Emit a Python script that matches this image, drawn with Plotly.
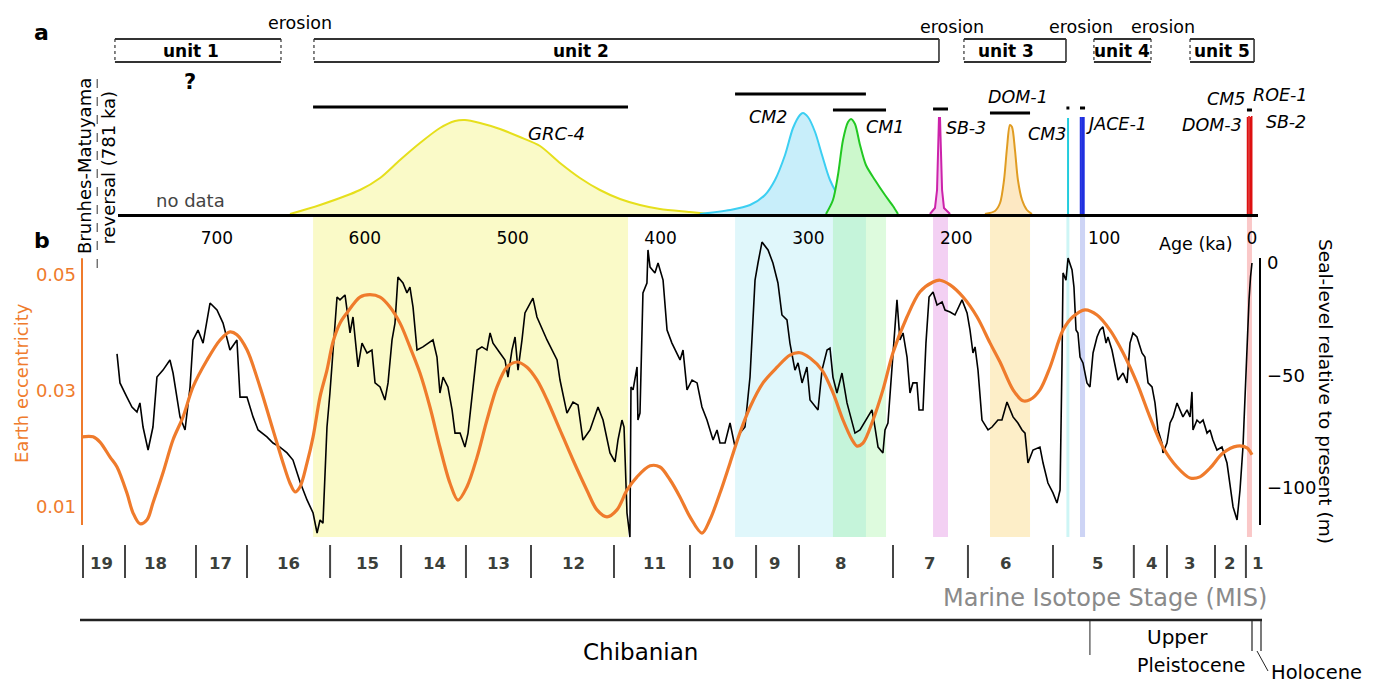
import plotly.graph_objects as go

W, H = 1377, 686

# ---------------- data ----------------
age_ticks = [700, 600, 500, 400, 300, 200, 100, 0]

# sea level (m, relative to present) vs age (ka)
sea_age = [
    767.6, 765.6, 760.9, 757.5, 754.1, 752.1, 750.0, 746.6, 743.3, 740.6,
    736.5, 731.8, 729.7, 725.0, 721.6, 718.2, 716.2, 712.8, 709.4, 704.7,
    700.0, 695.9, 691.2, 686.5, 684.4, 679.7, 675.6, 672.2, 666.2, 662.1,
    657.4, 652.6, 648.6, 643.8, 639.1, 635.0, 632.3, 630.3, 628.3, 625.6,
    623.6, 618.8, 616.8, 613.4, 610.0, 608.0, 604.6, 601.9, 598.5, 595.2,
    593.1, 589.7, 586.4, 584.3, 581.6, 579.6, 577.6, 574.2, 571.5, 569.5,
    567.4, 564.7, 560.7, 553.9, 551.2, 549.2, 547.1, 543.8, 541.0, 539.0,
    535.6, 532.3, 530.2, 527.5, 525.5, 524.1, 520.8, 517.4, 515.3, 513.3,
    508.6, 505.2, 503.2, 500.5, 498.4, 496.4, 493.7, 491.7, 486.3, 483.6,
    476.8, 470.0, 468.0, 463.3, 459.2, 455.8, 452.5, 447.7, 442.3, 438.9,
    434.2, 430.8, 428.8, 426.1, 424.7, 422.7, 420.7, 420.0, 418.6, 415.9,
    415.3, 413.9, 411.9, 409.2, 408.5, 407.1, 403.8, 401.7, 398.3, 395.6,
    392.3, 390.2, 386.8, 384.8, 382.1, 378.7, 375.3, 372.0, 368.6, 364.5,
    361.8, 359.8, 356.4, 353.0, 349.6, 346.3, 342.9, 339.5, 336.1, 334.1,
    331.4, 327.3, 324.0, 320.6, 317.9, 314.5, 312.5, 309.1, 307.0, 304.3,
    301.0, 298.9, 293.5, 290.8, 287.4, 285.4, 283.4, 280.7, 277.3, 273.9,
    270.5, 268.5, 265.1, 262.4, 259.7, 257.0, 255.0, 252.9, 249.6, 248.2,
    246.2, 242.8, 240.1, 238.1, 236.0, 233.3, 231.3, 229.3, 226.6, 225.2,
    222.5, 220.5, 218.4, 215.7, 213.0, 209.6, 207.6, 204.2, 200.9, 196.1,
    192.7, 190.7, 188.7, 187.3, 185.3, 182.6, 178.5, 175.8, 171.8, 169.1,
    165.7, 161.6, 158.3, 155.5, 153.5, 151.5, 148.1, 143.4, 141.3, 138.0,
    134.6, 131.9, 129.8, 128.5, 127.8, 125.8, 124.4, 121.7, 120.4, 119.0,
    117.7, 116.3, 114.3, 111.6, 109.6, 107.5, 104.8, 102.8, 100.8, 98.7,
    97.4, 94.7, 92.6, 90.6, 87.2, 84.5, 82.5, 80.5, 77.8, 74.4,
    72.4, 70.3, 67.6, 65.6, 63.6, 60.9, 60.2, 57.5, 55.4, 53.4,
    50.7, 48.7, 46.7, 43.9, 41.9, 40.6, 39.9, 37.2, 35.2, 33.1,
    30.4, 28.4, 26.4, 23.7, 20.3, 16.9, 14.9, 12.8, 10.1, 8.1,
    6.1, 3.4, 2.0, 1.0, 0.0,
]
sea_level = [
    -40.4, -53.3, -59.6, -64.0, -66.2, -62.2, -72.9, -83.1, -72.9, -50.7,
    -47.6, -43.1, -48.9, -68.4, -74.2, -55.1, -34.2, -29.8, -35.6, -17.8,
    -20.9, -26.7, -38.7, -34.2, -59.6, -59.6, -68.4, -74.2, -77.3, -80.0,
    -81.8, -84.4, -87.6, -97.3, -105.3, -111.1, -120.0, -114.2, -115.6, -72.9,
    -57.8, -15.1, -16.4, -14.2, -31.1, -24.0, -46.2, -35.6, -40.0, -38.7,
    -53.3, -55.1, -60.9, -53.3, -34.2, -26.7, -6.2, -8.9, -13.3, -10.7,
    -19.6, -38.7, -37.3, -34.2, -41.8, -57.8, -50.7, -55.1, -65.3, -75.6,
    -75.6, -81.8, -75.6, -59.6, -47.6, -38.7, -37.3, -38.7, -31.1, -35.6,
    -40.0, -43.1, -50.7, -38.7, -32.9, -47.6, -34.2, -22.2, -15.6, -24.0,
    -34.2, -43.1, -52.0, -66.7, -61.8, -63.1, -78.7, -74.2, -64.0, -69.8,
    -84.4, -88.4, -78.7, -69.8, -72.9, -111.1, -121.8, -55.1, -56.4, -46.2,
    -69.8, -66.7, -13.3, -8.9, 5.8, -1.8, -4.4, 0.0, -7.6, -29.8,
    -35.6, -38.7, -43.1, -38.7, -56.4, -52.0, -53.3, -64.0, -69.8, -78.7,
    -74.2, -80.0, -80.0, -71.1, -81.8, -75.6, -72.9, -50.7, -7.6, 0.0,
    9.3, 5.8, 0.0, -8.9, -23.1, -25.3, -35.6, -47.6, -44.4, -53.3,
    -46.2, -60.9, -65.3, -47.6, -38.7, -37.8, -50.7, -57.8, -48.9, -62.2,
    -71.1, -75.6, -74.2, -71.1, -68.4, -65.3, -72.9, -81.8, -84.4, -74.2,
    -71.1, -41.8, -16.4, -34.2, -31.1, -41.8, -57.8, -53.3, -53.3, -65.3,
    -65.3, -35.6, -15.1, -12.9, -18.7, -17.3, -20.9, -21.8, -23.1, -16.4,
    -22.2, -29.8, -40.0, -37.3, -47.6, -69.8, -74.2, -72.9, -69.8, -69.8,
    -61.8, -68.4, -71.1, -74.2, -75.6, -88.9, -83.1, -81.8, -88.9, -97.8,
    -102.2, -106.7, -100.9, -44.4, -4.4, -7.6, 2.2, -3.1, -10.7, -29.8,
    -31.1, -41.8, -44.4, -53.3, -55.1, -40.0, -32.9, -29.8, -28.4, -35.6,
    -32.9, -38.7, -46.2, -52.0, -48.9, -53.3, -35.6, -31.1, -32.9, -40.0,
    -41.8, -53.3, -55.1, -62.2, -74.2, -80.0, -84.4, -80.0, -71.1, -68.4,
    -62.2, -65.3, -68.4, -65.3, -68.4, -57.3, -74.2, -69.8, -71.1, -69.8,
    -75.6, -74.2, -78.7, -83.1, -81.8, -88.9, -97.8, -108.4, -114.2, -100.9,
    -81.8, -34.2, -16.4, -6.2, 0.0,
]

# Earth eccentricity vs age (ka)
ecc_age = [
    791.3, 783.8, 779.1, 772.3, 767.6, 760.9, 756.8, 752.1, 747.3, 743.3,
    736.5, 729.7, 723.0, 716.2, 706.8, 697.9, 691.2, 686.5, 679.7, 670.9,
    662.1, 655.3, 650.6, 647.2, 643.8, 639.1, 635.0, 630.3, 625.6, 621.5,
    616.8, 612.0, 603.3, 596.5, 589.7, 583.0, 576.2, 569.5, 562.7, 555.9,
    549.2, 542.4, 537.0, 530.9, 524.1, 517.4, 510.6, 503.9, 497.1, 490.3,
    483.6, 476.8, 468.0, 459.2, 449.8, 443.0, 436.2, 429.5, 422.7, 415.9,
    407.1, 400.4, 393.6, 386.8, 380.1, 372.0, 366.6, 359.8, 353.0, 346.3,
    339.5, 330.7, 321.2, 312.5, 305.7, 298.9, 290.8, 283.4, 276.6, 270.5,
    267.1, 263.1, 256.3, 249.6, 242.8, 233.3, 224.5, 215.7, 211.0, 204.2,
    195.4, 186.0, 177.2, 170.4, 161.6, 154.9, 150.1, 143.4, 136.6, 127.8,
    121.1, 112.9, 104.8, 96.0, 87.2, 77.8, 69.0, 60.2, 50.7, 41.9,
    35.2, 28.4, 19.6, 10.1, 3.4, 0.0,
]
eccentricity = [
    0.0221, 0.0221, 0.0212, 0.0186, 0.0169, 0.0124, 0.0090, 0.0071, 0.0078, 0.0107,
    0.0159, 0.0216, 0.0255, 0.0307, 0.0353, 0.0388, 0.0402, 0.0397, 0.0371, 0.0307,
    0.0233, 0.0176, 0.0141, 0.0126, 0.0135, 0.0176, 0.0221, 0.0290, 0.0336, 0.0385,
    0.0417, 0.0435, 0.0462, 0.0466, 0.0462, 0.0445, 0.0417, 0.0376, 0.0331, 0.0272,
    0.0203, 0.0141, 0.0112, 0.0135, 0.0186, 0.0250, 0.0307, 0.0341, 0.0350, 0.0341,
    0.0319, 0.0285, 0.0233, 0.0181, 0.0129, 0.0095, 0.0083, 0.0095, 0.0129, 0.0152,
    0.0171, 0.0169, 0.0147, 0.0117, 0.0083, 0.0055, 0.0078, 0.0124, 0.0176, 0.0228,
    0.0272, 0.0314, 0.0341, 0.0362, 0.0366, 0.0357, 0.0336, 0.0297, 0.0250, 0.0216,
    0.0205, 0.0210, 0.0250, 0.0302, 0.0366, 0.0428, 0.0471, 0.0488, 0.0491, 0.0483,
    0.0462, 0.0428, 0.0383, 0.0350, 0.0302, 0.0283, 0.0285, 0.0302, 0.0341, 0.0405,
    0.0428, 0.0440, 0.0431, 0.0405, 0.0366, 0.0314, 0.0255, 0.0203, 0.0169, 0.0150,
    0.0152, 0.0167, 0.0193, 0.0205, 0.0202, 0.0190,
]

# age probability densities (relative height)
grc4_age = [650.6, 630.3, 603.3, 589.7, 576.2, 562.7, 549.2, 539.0, 532.3, 522.1,
            508.6, 495.1, 481.5, 468.0, 454.5, 441.0, 427.4, 413.9, 400.4, 380.1, 366.6]
grc4_h = [0, 0.09, 0.24, 0.36, 0.54, 0.71, 0.86, 0.93, 0.94, 0.91,
          0.85, 0.77, 0.68, 0.51, 0.36, 0.24, 0.15, 0.09, 0.05, 0.02, 0]
cm2_age = [373.4, 353.0, 339.5, 329.4, 322.6, 315.8, 310.4, 305.7, 303.7, 300.3,
           295.5, 290.8, 285.4, 278.6, 271.9, 261.7, 251.6]
cm2_h = [0, 0.04, 0.09, 0.19, 0.34, 0.59, 0.86, 0.99, 1.01, 0.97,
         0.82, 0.59, 0.34, 0.16, 0.07, 0.02, 0]
cm1_age = [288.1, 283.4, 280.0, 276.6, 273.2, 271.2, 268.5, 265.1, 261.1, 255.0, 248.2, 242.8, 239.4]
cm1_h = [0, 0.14, 0.39, 0.74, 0.92, 0.95, 0.90, 0.69, 0.49, 0.34, 0.19, 0.08, 0]
sb3_age = [217.8, 214.4, 213.0, 212.3, 211.7, 211.0, 210.3, 209.6, 208.3, 204.2]
sb3_h = [0, 0.06, 0.24, 0.64, 0.96, 0.96, 0.64, 0.24, 0.06, 0]
dom1_age = [180.6, 173.8, 170.4, 167.7, 165.7, 163.7, 162.3, 160.3, 158.3, 155.5, 152.2, 148.8]
dom1_h = [0, 0.03, 0.11, 0.34, 0.66, 0.89, 0.87, 0.64, 0.34, 0.14, 0.04, 0]
cm3_ages = [124.4]
cm3_h = [0.96]
jace1_ages = [115.8, 114.8, 113.8]
jace1_h = [0.97, 0.97, 0.97]
holocene_ages = [3.0, 2.0, 1.0, 0.2]
holocene_h = [0.97, 0.98, 0.97, 0.98]

# dated ranges (ka): GRC-4, CM2, CM1, SB-3, DOM-1, CM3, JACE-1, CM5/ROE-1/DOM-3/SB-2
range_start = [635.0, 349.6, 283.4, 215.7, 177.2, 125.5, 116.3, 3.4]
range_end = [422.0, 261.1, 247.5, 205.6, 150.1, 123.5, 112.9, 0.0]
range_level = [1.07, 1.20, 1.04, 1.05, 1.01, 1.06, 1.06, 1.04]

# stratigraphic units (ka)
unit_names = ["unit 1", "unit 2", "unit 3", "unit 4", "unit 5"]
unit_start = [769.0, 634.4, 194.8, 106.9, 41.9]
unit_end = [656.7, 211.7, 125.8, 68.3, -1.4]
unit_label_age = [717.6, 453.8, 166.4, 87.9, 20.3]
erosion_age = [643.8, 202.9, 115.6, 60.2]

# Marine Isotope Stages
mis_bounds = [790.6, 762.2, 714.2, 679.7, 623.5, 575.5, 531.6, 487.6, 431.5, 380.1,
              335.4, 306.4, 242.8, 192.1, 134.6, 79.9, 57.5, 25.0, 4.1]
mis_labels = ["19", "18", "17", "16", "15", "14", "13", "12", "11", "10",
              "9", "8", "7", "6", "5", "4", "3", "2", "1"]
mis_label_age = [778.4, 741.9, 697.9, 651.3, 597.9, 553.2, 509.3, 459.2, 404.4, 358.4,
                 322.6, 278.6, 218.4, 166.4, 104.8, 68.3, 42.6, 14.9, -3.4]

brunhes_matuyama = 781.0
chibanian_upper_boundary = 109.6

# ---------------- helpers ----------------
def ppx(p):
    return p / W


def ppy(p):
    return 1 - p / H


FONT = "DejaVu Sans"
ORANGE = "#ef7b2c"

fig = go.Figure()

# ---------------- shaded age bands ----------------
band_colors = ["rgb(250,250,200)", "rgb(224,247,251)", "rgba(90,235,90,0.2)",
               "rgb(243,208,243)", "rgb(253,238,200)", "rgb(205,245,245)",
               "rgb(205,212,245)", "rgb(250,200,200)"]
for a0, a1, c in zip(range_start, range_end, band_colors):
    fig.add_shape(type="rect", xref="x", yref="paper", x0=a0, x1=a1,
                  y0=ppy(537), y1=ppy(214), fillcolor=c, line_width=0, layer="below")

# ---------------- panel a: densities ----------------
def density(x, y, line_c, fill_c, shape="spline"):
    fig.add_trace(go.Scatter(x=x, y=y, xaxis="x2", yaxis="y4", mode="lines",
                             fill="tozeroy", fillcolor=fill_c,
                             line=dict(color=line_c, width=2, shape=shape, smoothing=0.8),
                             hoverinfo="skip"))


density(grc4_age, grc4_h, "#e6df1c", "rgb(250,250,200)")
density(cm2_age, cm2_h, "#3ccff2", "rgb(200,238,250)")
density(cm1_age, cm1_h, "#22c822", "rgb(204,248,204)")
density(sb3_age, sb3_h, "#cc22aa", "rgb(246,205,240)", shape="linear")
density(dom1_age, dom1_h, "#e09c22", "rgb(253,232,195)")


def spikes(ages, hs, color, width):
    xs, ys = [], []
    for a, h in zip(ages, hs):
        xs += [a, a, None]
        ys += [0, h, None]
    fig.add_trace(go.Scatter(x=xs, y=ys, xaxis="x2", yaxis="y4", mode="lines",
                             line=dict(color=color, width=width), hoverinfo="skip"))


spikes(cm3_ages, cm3_h, "#22ccdd", 2)
spikes(jace1_ages, jace1_h, "#2030e0", 2)
spikes(holocene_ages, holocene_h, "#dd1111", 1.6)

rx, ry = [], []
for a0, a1, lv in zip(range_start, range_end, range_level):
    rx += [a0, a1, None]
    ry += [lv, lv, None]
fig.add_trace(go.Scatter(x=rx, y=ry, xaxis="x2", yaxis="y4", mode="lines",
                         line=dict(color="black", width=3), hoverinfo="skip"))

# ---------------- panel b ----------------
fig.add_trace(go.Scatter(x=sea_age, y=sea_level, xaxis="x", yaxis="y", mode="lines",
                         line=dict(color="black", width=1.6), hoverinfo="skip"))
fig.add_trace(go.Scatter(x=ecc_age, y=eccentricity, xaxis="x", yaxis="y2", mode="lines",
                         line=dict(color=ORANGE, width=3.2, shape="spline", smoothing=0.9),
                         hoverinfo="skip"))

# axis lines
fig.add_shape(type="line", xref="paper", yref="y2", x0=ppx(82), x1=ppx(82),
              y0=0.0069, y1=0.0529, line=dict(color=ORANGE, width=2))
fig.add_shape(type="line", xref="paper", yref="y", x0=ppx(1260), x1=ppx(1260),
              y0=-116.4, y1=2.2, line=dict(color="black", width=2))


def text(t, x, y, size, color="black", angle=0, xref="paper", xanchor="center"):
    fig.add_annotation(x=x, y=y, xref=xref, yref="paper", text=t, showarrow=False, textangle=angle,
                       xanchor=xanchor, yanchor="middle", font=dict(family=FONT, size=size, color=color))


# ---------------- units ----------------
for i, (a0, a1) in enumerate(zip(unit_start, unit_end)):
    for yy in (39, 62):
        fig.add_shape(type="line", xref="x", yref="paper", x0=a0, x1=a1,
                      y0=ppy(yy), y1=ppy(yy), line=dict(color="#333", width=1.8))
    right_dash = "dot" if i in (0, 3) else "solid"
    fig.add_shape(type="line", xref="x", yref="paper", x0=a0, x1=a0, y0=ppy(39), y1=ppy(62),
                  line=dict(color="#333", width=1.2, dash="dot"))
    fig.add_shape(type="line", xref="x", yref="paper", x0=a1, x1=a1, y0=ppy(39), y1=ppy(62),
                  line=dict(color="#333", width=1.6 if right_dash == "solid" else 1.2, dash=right_dash))
    text("<b>" + unit_names[i] + "</b>", unit_label_age[i], ppy(51), 17, xref="x")

for k, a in enumerate(erosion_age):
    text("erosion", a, ppy(23 if k == 0 else 27), 17.5, xref="x")

# ---------------- MIS ----------------
for b in mis_bounds:
    fig.add_shape(type="line", xref="x", yref="paper", x0=b, x1=b, y0=ppy(578), y1=ppy(545),
                  line=dict(color="#454545", width=2))
for lab, a in zip(mis_labels, mis_label_age):
    text("<b>" + lab + "</b>", a, ppy(563), 16.5, color="#3b3f3b", xref="x")

# Brunhes-Matuyama
fig.add_shape(type="line", xref="x", yref="paper", x0=brunhes_matuyama, x1=brunhes_matuyama,
              y0=ppy(268), y1=ppy(76), line=dict(color="#333", width=1, dash="dash"))

# geological time scale
fig.add_shape(type="line", xref="paper", yref="paper", x0=ppx(80), x1=ppx(1262), y0=ppy(620), y1=ppy(620),
              line=dict(color="#222", width=2.5))
fig.add_shape(type="line", xref="x", yref="paper", x0=chibanian_upper_boundary, x1=chibanian_upper_boundary,
              y0=ppy(620), y1=ppy(655), line=dict(color="#222", width=1))
for xx in (1252, 1261):
    fig.add_shape(type="line", xref="paper", yref="paper", x0=ppx(xx), x1=ppx(xx), y0=ppy(620), y1=ppy(651),
                  line=dict(color="#222", width=1.2))
fig.add_shape(type="line", xref="paper", yref="paper", x0=ppx(1257), x1=ppx(1268), y0=ppy(651), y1=ppy(671),
              line=dict(color="#222", width=1))

text("<b>a</b>", ppx(41), ppy(33), 22)
text("<b>b</b>", ppx(42), ppy(241), 22)
text("<b>?</b>", 718.2, ppy(82), 21, xref="x")
text("Brunhes-Matuyama", ppx(85), ppy(166), 18, angle=-90)
text("reversal (781 ka)", ppx(107.5), ppy(167), 18, angle=-90)
text("no data", 718.2, ppy(200), 18, color="#444", xref="x")
text("Age (ka)", ppx(1196), ppy(244), 17.5)
text("Earth eccentricity", ppx(21), ppy(383), 18, color=ORANGE, angle=-90)
text("Seal-level relative to present (m)", ppx(1326), ppy(391), 18.5, angle=90)
text("Marine Isotope Stage (MIS)", ppx(1105), ppy(598), 24, color="#8a8a8a")
text("Chibanian", ppx(640), ppy(652), 23)
text("Upper", ppx(1177), ppy(637), 20)
text("Pleistocene", ppx(1191), ppy(665), 19)
text("Holocene", ppx(1269), ppy(672), 19.5, xanchor="left")

# sample labels (italic)
sample_labels = [("GRC-4", 470.7, 133, 18), ("CM2", 327.4, 117, 17.5), ("CM1", 248.2, 127, 17.5),
                 ("SB-3", 193.4, 128, 17.5), ("DOM-1", 158.2, 97, 17.5), ("CM3", 138.7, 134, 17.5),
                 ("JACE-1", 91.3, 124, 17.5), ("CM5", 17.6, 99, 17.5), ("ROE-1", -18.9, 95, 17.5),
                 ("DOM-3", 27.0, 125, 17.5), ("SB-2", -23.0, 122, 17.5)]
for t, a, yy, s in sample_labels:
    text("<i>" + t + "</i>", a, ppy(yy), s, xref="x")

# ---------------- layout ----------------
fig.update_layout(
    width=W, height=H, margin=dict(l=0, r=0, t=0, b=0),
    paper_bgcolor="white", plot_bgcolor="rgba(0,0,0,0)", showlegend=False,
    font=dict(family=FONT, color="black"),
    xaxis=dict(domain=[0, 1], range=[846.74, -84.55], visible=False, anchor="y"),
    xaxis2=dict(domain=[ppx(118), ppx(1258)], range=[766.93, -4.07], anchor="y4",
                showline=True, linecolor="black", linewidth=2.5, ticks="",
                tickvals=age_ticks, tickfont=dict(family=FONT, size=17, color="black"),
                showgrid=False, zeroline=False, ticklabelstandoff=7),
    yaxis=dict(domain=[ppy(540), ppy(238)], range=[-123.11, 11.11], anchor="free",
               position=ppx(1260), side="right", showgrid=False, zeroline=False, showline=False,
               ticks="", tickvals=[0, -50, -100], tickfont=dict(family=FONT, size=18, color="black"),
               ticklabelstandoff=6),
    yaxis2=dict(overlaying="y", range=[0.004311, 0.056379], anchor="free", position=ppx(82),
                side="left", showgrid=False, zeroline=False, showline=False, ticks="",
                tickvals=[0.01, 0.03, 0.05], ticktext=["0.01", "0.03", "0.05"],
                tickfont=dict(family=FONT, size=18, color=ORANGE), ticklabelstandoff=6),
    yaxis4=dict(domain=[ppy(214), ppy(89)], range=[0, 1.25], visible=False, anchor="x2"),
)

fig.write_html("out.html", config={"displayModeBar": False},
               post_script="document.body.style.margin='0px';")
